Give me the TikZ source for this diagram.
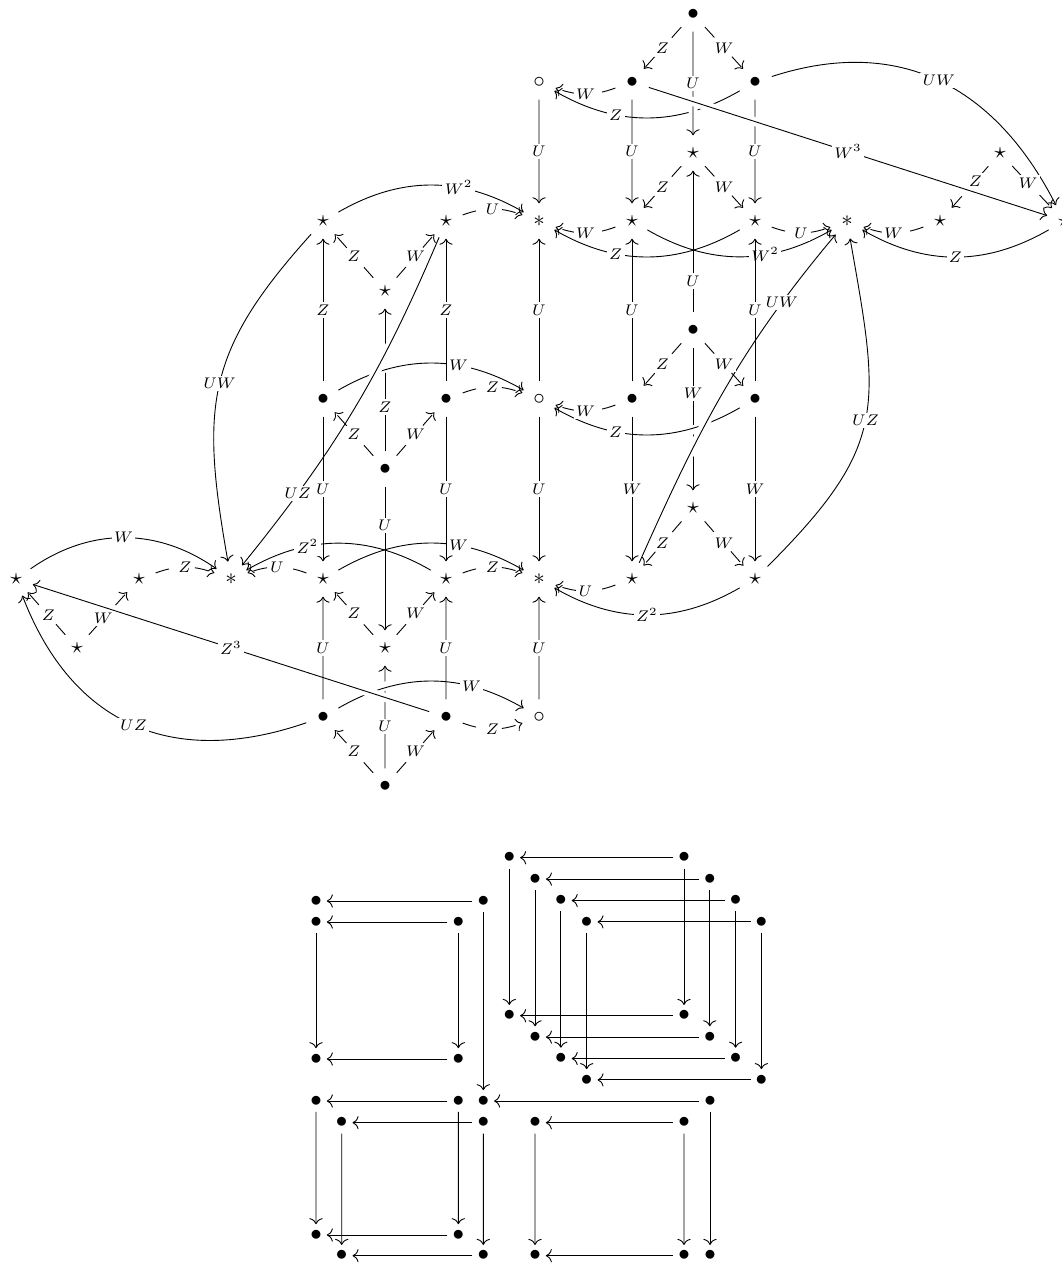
\documentclass[tikz,border=0pt]{standalone}
\usetikzlibrary{arrows.meta}
\tikzset{
  morph/.style={-{To[length=3pt,width=6.6pt]},line width=0.45pt},
  dmorph/.style={morph,dash pattern=on 7pt off 13pt},
  over/.style={preaction={draw=white,-,line width=4.5pt,shorten <=7pt,shorten >=9pt}},
  lab/.style={font=\scriptsize,fill=white,inner sep=1.1pt,scale=1.1},
  obj/.style={circle,inner sep=0pt,minimum size=15pt,scale=1.15},
  dot/.style={circle,inner sep=0pt,minimum size=9pt,scale=1.15},
}
\begin{document}
\begin{tikzpicture}[x=0.5pt,y=-0.5pt]
  \useasboundingbox (0,0) rectangle (1061,1264);

  \node[obj] (a0) at (693,14) {$\bullet$};
  \node[obj] (a1) at (632,82) {$\bullet$};
  \node[obj] (a2) at (755,82) {$\bullet$};
  \node[obj] (a3) at (693,153) {$\star$};
  \node[obj] (a4) at (632,221) {$\star$};
  \node[obj] (a5) at (755,221) {$\star$};
  \node[obj] (o1) at (539,82) {$\circ$};
  \node[obj] (s1) at (539,221) {$\ast$};
  \node[obj] (s2) at (847,221) {$\ast$};
  \node[obj] (r0) at (1000,153) {$\star$};
  \node[obj] (r1) at (940,221) {$\star$};
  \node[obj] (r2) at (1064,221) {$\star$};

  \node[obj] (b0) at (693,330) {$\bullet$};
  \node[obj] (b1) at (632,399) {$\bullet$};
  \node[obj] (b2) at (755,399) {$\bullet$};
  \node[obj] (b3) at (693,508) {$\star$};
  \node[obj] (b4) at (632,579) {$\star$};
  \node[obj] (b5) at (755,579) {$\star$};
  \node[obj] (o2) at (539,399) {$\circ$};
  \node[obj] (s3) at (539,579) {$\ast$};

  \node[obj] (c0) at (385,469) {$\bullet$};
  \node[obj] (c1) at (323,399) {$\bullet$};
  \node[obj] (c2) at (446,399) {$\bullet$};
  \node[obj] (c3) at (385,291) {$\star$};
  \node[obj] (c4) at (323,221) {$\star$};
  \node[obj] (c5) at (446,221) {$\star$};

  \node[obj] (d0) at (385,786) {$\bullet$};
  \node[obj] (d1) at (323,717) {$\bullet$};
  \node[obj] (d2) at (446,717) {$\bullet$};
  \node[obj] (d3) at (385,648) {$\star$};
  \node[obj] (d4) at (323,579) {$\star$};
  \node[obj] (d5) at (446,579) {$\star$};
  \node[obj] (o3) at (539,717) {$\circ$};
  \node[obj] (s4) at (231,579) {$\ast$};
  \node[obj] (l0) at (77,648) {$\star$};
  \node[obj] (l1) at (16,579) {$\star$};
  \node[obj] (l2) at (139,579) {$\star$};

  % upper right block
  \draw[dmorph] (a0) -- node[lab]{$Z$} (a1);
  \draw[dmorph] (a0) -- node[lab]{$W$} (a2);
  \draw[morph] (a1) -- node[lab]{$U$} (a4);
  \draw[morph] (a2) -- node[lab]{$U$} (a5);
  \draw[dmorph] (a3) -- node[lab]{$Z$} (a4);
  \draw[dmorph] (a3) -- node[lab]{$W$} (a5);
  \draw[dmorph] (a1) to[bend left=20] node[lab]{$W$} (o1);
  \draw[morph] (a2) to[bend left=30] node[lab,pos=0.67]{$Z$} (o1);
  \draw[morph,over] (a0) -- node[lab]{$U$} (a3);
  \draw[morph,over] (a1) -- node[lab]{$W^3$} (r2);
  \draw[morph] (o1) -- node[lab]{$U$} (s1);
  \draw[dmorph] (a4) to[bend left=20] node[lab]{$W$} (s1);
  \draw[morph] (a5) to[bend left=30] node[lab,pos=0.67]{$Z$} (s1);
  \draw[morph] (a4) to[bend right=30] node[lab,pos=0.64]{$W^2$} (s2);
  \draw[dmorph] (a5) to[bend right=20] node[lab]{$U$} (s2);
  \draw[morph] (a2) to[out=18,in=117,looseness=1.1] node[lab]{$UW$} (r2);
  \draw[dmorph] (r0) -- node[lab,pos=0.35]{$Z$} (r1);
  \draw[dmorph] (r0) -- node[lab,pos=0.4]{$W$} (r2);
  \draw[dmorph] (r1) to[bend left=20] node[lab]{$W$} (s2);
  \draw[morph] (r2) to[bend left=30] node[lab]{$Z$} (s2);

  % middle right block
  \draw[morph] (b0) -- node[lab,pos=0.32]{$W$} (b3);
  \draw[morph,over] (b2) to[bend left=30] node[lab,pos=0.67]{$Z$} (o2);
  \draw[morph,over] (b4) to[out=66,in=-130] node[lab,pos=0.79]{$UW$} (s2);
  \draw[dmorph] (b0) -- node[lab]{$Z$} (b1);
  \draw[dmorph] (b0) -- node[lab]{$W$} (b2);
  \draw[morph] (b0) -- node[lab,pos=0.22]{$U$} (a3);
  \draw[morph] (b1) -- node[lab]{$U$} (a4);
  \draw[morph] (b2) -- node[lab]{$U$} (a5);
  \draw[morph] (b1) -- node[lab]{$W$} (b4);
  \draw[morph] (b2) -- node[lab]{$W$} (b5);
  \draw[dmorph] (b3) -- node[lab]{$Z$} (b4);
  \draw[dmorph] (b3) -- node[lab]{$W$} (b5);
  \draw[dmorph] (b1) to[bend left=20] node[lab]{$W$} (o2);
  \draw[morph] (o2) -- node[lab]{$U$} (s1);
  \draw[morph] (o2) -- node[lab]{$U$} (s3);
  \draw[dmorph] (b4) to[bend left=20] node[lab]{$U$} (s3);
  \draw[morph] (b5) to[bend left=30] node[lab]{$Z^2$} (s3);
  \draw[morph] (b5) to[out=45,in=-80,looseness=1.3] node[lab]{$UZ$} (s2);

  % upper left block
  \draw[morph] (c0) -- node[lab,pos=0.31]{$Z$} (c3);
  \draw[morph,over] (c1) to[bend left=30] node[lab,pos=0.65]{$W$} (o2);
  \draw[morph,over] (c5) to[bend left=8] node[lab,pos=0.78]{$UZ$} (s4);
  \draw[dmorph] (c3) -- node[lab]{$Z$} (c4);
  \draw[dmorph] (c3) -- node[lab]{$W$} (c5);
  \draw[morph] (c1) -- node[lab]{$Z$} (c4);
  \draw[morph] (c2) -- node[lab]{$Z$} (c5);
  \draw[dmorph] (c0) -- node[lab]{$Z$} (c1);
  \draw[dmorph] (c0) -- node[lab]{$W$} (c2);
  \draw[dmorph] (c5) to[bend left=20] node[lab]{$U$} (s1);
  \draw[morph] (c4) to[bend left=30] node[lab,pos=0.65]{$W^2$} (s1);
  \draw[dmorph] (c2) to[bend left=20] node[lab]{$Z$} (o2);
  \draw[morph] (c4) to[out=-132,in=100,looseness=1.2] node[lab]{$UW$} (s4);
  \draw[morph] (c1) -- node[lab]{$U$} (d4);
  \draw[morph] (c2) -- node[lab]{$U$} (d5);
  \draw[morph] (c0) -- node[lab,pos=0.27]{$U$} (d3);

  % lower left block
  \draw[morph] (d0) -- node[lab,pos=0.41]{$U$} (d3);
  \draw[morph,over] (d1) to[bend left=30] node[lab,pos=0.72]{$W$} (o3);
  \draw[morph,over] (d2) -- node[lab]{$Z^3$} (l1);
  \draw[dmorph] (d0) -- node[lab]{$Z$} (d1);
  \draw[dmorph] (d0) -- node[lab]{$W$} (d2);
  \draw[morph] (d1) -- node[lab]{$U$} (d4);
  \draw[morph] (d2) -- node[lab]{$U$} (d5);
  \draw[dmorph] (d3) -- node[lab]{$Z$} (d4);
  \draw[dmorph] (d3) -- node[lab]{$W$} (d5);
  \draw[dmorph] (d2) to[bend right=20] node[lab]{$Z$} (o3);
  \draw[morph] (o3) -- node[lab]{$U$} (s3);
  \draw[dmorph] (d5) to[bend left=20] node[lab]{$Z$} (s3);
  \draw[morph] (d4) to[bend left=30] node[lab,pos=0.65]{$W$} (s3);
  \draw[dmorph] (d4) to[bend right=20] node[lab]{$U$} (s4);
  \draw[morph] (d5) to[bend right=30] node[lab,pos=0.67]{$Z^2$} (s4);
  \draw[dmorph] (l0) -- node[lab,pos=0.45]{$Z$} (l1);
  \draw[dmorph] (l0) -- node[lab,pos=0.38]{$W$} (l2);
  \draw[dmorph] (l2) to[bend left=20] node[lab]{$Z$} (s4);
  \draw[morph] (l1) to[bend left=35] node[lab]{$W$} (s4);
  \draw[morph] (d1) to[out=199,in=-69,looseness=1.15] node[lab]{$UZ$} (l1);

  % squares below
  \foreach \n/\xa/\xb/\ya/\yb in {e0/509.3/684/857.7/1015.7, e1/535.1/709.8/879.1/1037.1,
      e2/560.9/735.6/900.5/1058.5, e3/586.7/761.4/921.9/1079.9, g/316/458.3/922/1059,
      h/316/458.3/1101/1235, i/341.7/483.3/1122.7/1255.7, j/535/684/1122.7/1255.7}{
    \node[dot] (nw\n) at (\xa,\ya) {$\bullet$};
    \node[dot] (ne\n) at (\xb,\ya) {$\bullet$};
    \node[dot] (sw\n) at (\xa,\yb) {$\bullet$};
    \node[dot] (se\n) at (\xb,\yb) {$\bullet$};
    \draw[morph] (ne\n) -- (nw\n);
    \draw[morph] (nw\n) -- (sw\n);
    \draw[morph] (ne\n) -- (se\n);
    \draw[morph] (se\n) -- (sw\n);
  }
  \node[dot] (f1) at (316,901) {$\bullet$};
  \node[dot] (f2) at (483.3,901) {$\bullet$};
  \node[dot] (f3) at (483.3,1101) {$\bullet$};
  \node[dot] (f4) at (710,1101) {$\bullet$};
  \node[dot] (f5) at (710,1255.7) {$\bullet$};
  \draw[morph] (f2) -- (f1);
  \draw[morph] (f2) -- (f3);
  \draw[morph] (f4) -- (f3);
  \draw[morph] (f4) -- (f5);
\end{tikzpicture}
\end{document}
